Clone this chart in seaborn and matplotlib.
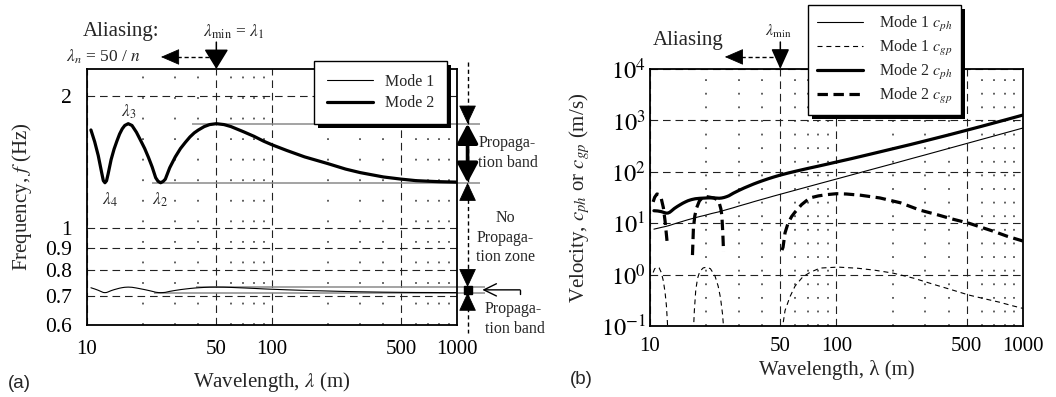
import numpy as np
import pandas as pd
import matplotlib
matplotlib.use("Agg")
import matplotlib.pyplot as plt
import seaborn as sns
from matplotlib.lines import Line2D
from matplotlib.patches import Rectangle
from matplotlib.transforms import IdentityTransform
from matplotlib.ticker import NullLocator, NullFormatter

# ---------------------------------------------------------------- data
wavelength = [10.5, 11, 11.5, 12, 12.25, 12.5, 12.75, 13, 13.5, 14, 14.5, 15, 15.5, 16,
              16.7, 17.5, 18.5, 19.5, 20.5, 21.5, 22.5, 23.5, 24.2, 25, 25.8, 26.5, 28,
              30, 32, 34, 36, 38, 40, 43, 46, 50, 55, 60, 70, 80, 90, 100, 120, 150, 200,
              250, 300, 400, 500, 600, 700, 800, 1000]

freq_mode1 = [0.7295, 0.7249, 0.7199, 0.7142, 0.7116, 0.711, 0.7116, 0.7137, 0.7185,
              0.7222, 0.7251, 0.7279, 0.7299, 0.7313, 0.732, 0.7313, 0.7285, 0.7254,
              0.7224, 0.7192, 0.716, 0.7126, 0.7115, 0.711, 0.7114, 0.7121, 0.7158,
              0.7194, 0.7224, 0.7247, 0.7267, 0.7283, 0.7295, 0.7308, 0.7317, 0.732,
              0.7317, 0.7308, 0.7288, 0.727, 0.7251, 0.7238, 0.7217, 0.7194, 0.7171,
              0.7153, 0.7142, 0.7128, 0.7121, 0.7116, 0.7115, 0.7113, 0.7112]

freq_mode2 = [1.67, 1.57, 1.46, 1.335, 1.28, 1.266, 1.279, 1.325, 1.43, 1.51, 1.575,
              1.635, 1.68, 1.71, 1.726, 1.71, 1.65, 1.58, 1.515, 1.445, 1.375, 1.30,
              1.276, 1.266, 1.275, 1.29, 1.37, 1.45, 1.515, 1.565, 1.61, 1.645, 1.67,
              1.70, 1.718, 1.726, 1.718, 1.70, 1.655, 1.615, 1.575, 1.545, 1.50, 1.45,
              1.40, 1.36, 1.335, 1.305, 1.29, 1.28, 1.276, 1.273, 1.27]

cph_mode1 = [7.66, 7.97, 8.28, 8.57, 8.72, 8.89, 9.07, 9.28, 9.70, 10.1, 10.5, 10.9,
             11.3, 11.7, 12.2, 12.8, 13.5, 14.1, 14.8, 15.5, 16.1, 16.7, 17.2, 17.8,
             18.4, 18.9, 20.0, 21.6, 23.1, 24.6, 26.2, 27.7, 29.2, 31.4, 33.7, 36.6,
             40.2, 43.8, 51.0, 58.2, 65.3, 72.4, 86.6, 108, 143, 179, 214, 285, 356,
             427, 498, 569, 711]

cph_mode2 = [17.5, 17.3, 16.8, 16.0, 15.7, 15.8, 16.3, 17.2, 19.3, 21.1, 22.8, 24.5,
             26.0, 27.4, 28.8, 29.9, 30.5, 30.8, 31.1, 31.1, 30.9, 30.6, 30.9, 31.7,
             32.9, 34.2, 38.4, 43.5, 48.5, 53.2, 58.0, 62.5, 66.8, 73.1, 79.0, 86.3,
             94.5, 102, 116, 129, 142, 155, 180, 218, 280, 340, 401, 522, 645, 768,
             893, 1018, 1270]

# group velocities exist only on branches where they are positive (NaN = gap)
cgp_mode1_wavelength = [10.4, 10.6, 10.9, 11.2, 11.5, 11.8, 12.05, 12.25, 12.4, 12.5, np.nan,
                        17.1, 17.3, 17.6, 18.0, 18.5, 19.3, 20.2, 21.1, 22.3, 23.2, 23.9,
                        24.5, 24.9, np.nan,
                        51.3, 51.7, 53, 56.3, 60, 65.9, 72, 81.6, 102, 130, 160, 201, 260,
                        330, 420, 513, 620, 750, 870, 1000]
cgp_mode1 = [1.1, 1.3, 1.4, 1.35, 1.1, 0.75, 0.45, 0.25, 0.12, 0.06, np.nan,
             0.08, 0.2, 0.5, 0.85, 1.15, 1.35, 1.4, 1.3, 0.95, 0.6, 0.35, 0.17, 0.08, np.nan,
             0.08, 0.11, 0.2, 0.37, 0.6, 0.9, 1.1, 1.34, 1.4, 1.33, 1.22, 1.07, 0.85, 0.65,
             0.5, 0.4, 0.34, 0.29, 0.25, 0.22]

cgp_mode2_wavelength = [10.4, 10.6, 10.9, 11.2, 11.5, 11.8, 12.05, 12.25, 12.4, np.nan,
                        16.9, 17.1, 17.4, 17.8, 18.4, 19.2, 20.0, 21.0, 22.0, 22.8, 23.5,
                        24.0, 24.3, 24.6, 24.8, np.nan,
                        51.0, 51.7, 53, 55, 57.5, 60, 65, 72, 80, 89, 100, 113, 135, 171,
                        220, 280, 350, 420, 513, 600, 700, 820, 1000]
cgp_mode2 = [26, 32, 37, 36, 30, 20, 11, 6, 3.8, np.nan,
             2.4, 8, 14, 20, 27, 32, 33, 32, 31, 29, 25, 19, 14, 6, 2.8, np.nan,
             3.0, 3.4, 6.5, 10, 13.5, 16.5, 23, 31, 34, 36, 37.5, 37, 35, 31, 25, 18,
             14.5, 12, 10, 8.3, 6.9, 5.6, 4.5]

band_mode2 = [1.266, 1.726]   # propagation band edges, mode 2 (Hz)
band_mode1 = [0.711, 0.732]   # propagation band edges, mode 1 (Hz)

x_ticks = [10, 50, 100, 500, 1000]
x_tick_labels = ["10", "50", "100", "500", "1000"]
x_minor = [20, 30, 40, 60, 70, 80, 90, 200, 300, 400, 600, 700, 800, 900]
freq_ticks = [0.6, 0.7, 0.8, 0.9, 1, 2]
freq_tick_labels = ["0.6", "0.7", "0.8", "0.9", "1", "2"]
vel_ticks = [1e-1, 1e0, 1e1, 1e2, 1e3, 1e4]
vel_tick_labels = [r"$10^{-1}$", r"$10^{0}$", r"$10^{1}$", r"$10^{2}$", r"$10^{3}$", r"$10^{4}$"]

# ---------------------------------------------------------------- style
sns.set_theme(style="white")
plt.rcParams["font.family"] = ["Liberation Serif", "DejaVu Serif"]
plt.rcParams["mathtext.fontset"] = "stix"
plt.rcParams["lines.scale_dashes"] = False
plt.rcParams["axes.edgecolor"] = "black"
plt.rcParams["axes.linewidth"] = 1.2

THIN = 0.8
THICK = 2.3
THIN_DASH = (0, (3.6, 2.8))
THICK_DASH = (0, (7.5, 4.0))

fig = plt.figure(figsize=(10.56, 3.97), dpi=100)
ax_a = fig.add_axes([0.0824, 0.1814, 0.3504, 0.6448])
ax_b = fig.add_axes([0.6155, 0.1788, 0.3532, 0.6474])


def style_axes(ax, dot_gap):
    ax.set_xscale("log")
    ax.set_yscale("log")
    ax.set_xlim(10, 1000)
    ax.set_xticks(x_ticks, labels=x_tick_labels)
    ax.set_xticks(x_minor, minor=True)
    ax.xaxis.set_minor_formatter(NullFormatter())
    ax.yaxis.set_minor_locator(NullLocator())
    ax.tick_params(which="both", length=0, labelsize=15, colors="black")
    ax.set_axisbelow(True)
    ax.grid(which="major", linestyle=(0, (5.5, 3.5)), color="#222222", linewidth=0.8)
    ax.grid(which="minor", axis="x", linestyle=(0, (1.3, dot_gap)), color="#333333",
            linewidth=1.1)
    for s in ax.spines.values():
        s.set_color("black")
        s.set_linewidth(1.3)


def draw(ax, x, y, lw, ls="-"):
    sns.lineplot(x=x, y=y, ax=ax, color="black", linewidth=lw, linestyle=ls,
                 estimator=None, sort=False, legend=False)


def draw_branches(ax, xs, ys, lw, ls):
    df = pd.DataFrame({"x": xs, "y": ys})
    gap = df["x"].isna()
    branch = gap.cumsum()
    for _, part in df[~gap].groupby(branch[~gap]):
        draw(ax, part["x"].to_numpy(), part["y"].to_numpy(), lw, ls)


def head(ax, x, y, direction, coords="data", size=20, hw=0.3, hl=0.6):
    L = hl * size
    off = {"down": (0, L), "up": (0, -L), "left": (L, 0)}[direction]
    ax.annotate("", xy=(x, y), xycoords=coords, xytext=off, textcoords="offset points",
                arrowprops=dict(arrowstyle=f"-|>,head_length={hl},head_width={hw}",
                                mutation_scale=size, color="black", lw=0.6,
                                shrinkA=0, shrinkB=0),
                annotation_clip=False)


def aliasing_marks(ax, label, label_x, label_y, tip_x, base_x, min_label, min_x, fs_min, hw):
    top = ("data", "axes fraction")
    ax.annotate("", xy=(50, 1.0), xycoords=top, xytext=(50, 1.105), textcoords=top,
                arrowprops=dict(arrowstyle=f"-|>,head_length=0.62,head_width={hw}",
                                mutation_scale=20, color="black", lw=1.1,
                                shrinkA=0, shrinkB=0),
                annotation_clip=False)
    ax.plot([50, base_x], [1.047, 1.047], transform=ax.get_xaxis_transform(),
            color="black", lw=1.0, linestyle=(0, (3, 2)), clip_on=False)
    ax.annotate("", xy=(tip_x, 1.047), xycoords=top, xytext=(base_x, 1.047), textcoords=top,
                arrowprops=dict(arrowstyle="-|>,head_length=0.6,head_width=0.26",
                                mutation_scale=20, color="black", lw=0.6,
                                shrinkA=0, shrinkB=0),
                annotation_clip=False)
    ax.annotate(label, xy=(label_x, label_y), xycoords=top, ha="left", va="baseline",
                fontsize=15)
    ax.annotate(min_label, xy=(min_x, 1.145), xycoords=top, ha="center", va="center",
                fontsize=fs_min)


def add_shadow(ax, leg, dx=4, dy=4):
    fig.canvas.draw()
    bb = leg.get_window_extent()
    rect = Rectangle((bb.x0 + dx, bb.y0 - dy), bb.width, bb.height,
                     transform=IdentityTransform(), facecolor="black", edgecolor="none",
                     zorder=leg.get_zorder() - 0.1, clip_on=False)
    ax.add_artist(rect)


# ---------------------------------------------------------------- (a) frequency
style_axes(ax_a, 13.5)
ax_a.set_ylim(0.6, 2.3)
ax_a.set_yticks(freq_ticks, labels=freq_tick_labels)
ax_a.yaxis.set_minor_locator(NullLocator())
ax_a.tick_params(axis="x", pad=11)
ax_a.tick_params(axis="y", pad=11, labelsize=15.5)

X_END = 1330
ax_a.hlines([band_mode2[1]], 37, X_END, color="#8a8a8a", lw=1.1, clip_on=False, zorder=1.5)
ax_a.hlines([band_mode2[0]], 22.4, X_END, color="#8a8a8a", lw=1.1, clip_on=False, zorder=1.5)
ax_a.hlines([band_mode1[1]], 38.8, 1416, color="#8a8a8a", lw=1.1, clip_on=False, zorder=1.5)
ax_a.hlines([band_mode1[0]], 23, 1416, color="#8a8a8a", lw=1.1, clip_on=False, zorder=1.5)

draw(ax_a, wavelength, freq_mode1, THIN)
draw(ax_a, wavelength, freq_mode2, THICK)

ax_a.text(16.7, 1.84, r"$\lambda_3$", ha="center", va="center", fontsize=12.5)
ax_a.text(13.3, 1.16, r"$\lambda_4$", ha="center", va="center", fontsize=12.5)
ax_a.text(24.8, 1.16, r"$\lambda_2$", ha="center", va="center", fontsize=12.5)

ax_a.set_xlabel(r"Wavelength, $\lambda$ (m)", fontsize=15, labelpad=8)
ax_a.set_ylabel(r"Frequency, $f$ (Hz)", fontsize=15, labelpad=8)

aliasing_marks(ax_a, "Aliasing:", 9.5, 1.13, 25.1, 30.7,
               r"$\lambda_{\min}$ = $\lambda_1$", 62, 12.5, 0.38)
ax_a.annotate(r"$\lambda_n$ = 50 / $n$", xy=(12.3, 1.047), xycoords=("data", "axes fraction"),
              ha="center", va="center", fontsize=12.5)

# propagation bands on the right
X0 = 1140
ax_a.plot([X0, X0], [2.38, 0.576], color="black", lw=1.0, linestyle=(0, (3, 2.2)),
          clip_on=False, zorder=3)
head(ax_a, X0, band_mode2[1], "down", hw=0.28)
ax_a.annotate("", xy=(X0, band_mode2[0]), xytext=(X0, band_mode2[1]),
              arrowprops=dict(arrowstyle="<|-|>,head_length=0.6,head_width=0.32",
                              mutation_scale=20, color="black", lw=2.6,
                              shrinkA=0, shrinkB=0),
              annotation_clip=False, zorder=4)
head(ax_a, X0, band_mode2[0], "up", hw=0.28)
head(ax_a, X0, band_mode1[1], "down", hw=0.28)
head(ax_a, X0, band_mode1[0], "up", hw=0.28)
ax_a.plot([X0], [0.7215], marker="s", ms=6, color="black", clip_on=False, zorder=5)

ax_a.text(1300, 1.482, "Propaga-\ntion band", ha="left", va="center", fontsize=11.5,
          linespacing=1.3)
ax_a.text(1817, 0.948, "No\nPropaga-\ntion zone", ha="center", va="center", fontsize=11.5,
          linespacing=1.3)
ax_a.text(1416, 0.62, "Propaga-\ntion band", ha="left", va="center", fontsize=11.5,
          linespacing=1.3)
ax_a.annotate("", xy=(1370, 0.7215), xytext=(2190, 0.7215),
              arrowprops=dict(arrowstyle="->,head_length=0.45,head_width=0.22",
                              mutation_scale=20, color="black", lw=1.0,
                              shrinkA=0, shrinkB=0),
              annotation_clip=False)
ax_a.plot([2190, 2190], [0.7215, 0.705], color="black", lw=1.0, clip_on=False)

leg_a = ax_a.legend(
    handles=[Line2D([], [], color="black", lw=THIN), Line2D([], [], color="black", lw=THICK)],
    labels=["Mode 1", "Mode 2"], loc="upper left", bbox_to_anchor=(0.614, 1.031),
    borderaxespad=0, frameon=True, fancybox=False, framealpha=1, edgecolor="black",
    fontsize=11.5, handlelength=2.9, handletextpad=0.75, labelspacing=0.35, borderpad=0.8)
leg_a.get_frame().set_linewidth(1.0)
leg_a.set_zorder(6)

# ---------------------------------------------------------------- (b) velocity
style_axes(ax_b, 8.5)
ax_b.set_ylim(1e-1, 1e4)
ax_b.set_yticks(vel_ticks, labels=vel_tick_labels)
ax_b.yaxis.set_minor_locator(NullLocator())
ax_b.tick_params(axis="x", pad=8)
ax_b.tick_params(axis="y", pad=3, labelsize=17.5)

draw(ax_b, wavelength, cph_mode1, THIN)
draw(ax_b, wavelength, cph_mode2, THICK)
draw_branches(ax_b, cgp_mode1_wavelength, cgp_mode1, THIN, THIN_DASH)
draw_branches(ax_b, cgp_mode2_wavelength, cgp_mode2, THICK, THICK_DASH)

ax_b.set_xlabel("Wavelength, λ (m)", fontsize=15, labelpad=3)
ax_b.set_ylabel(r"Velocity, $c_{ph}$ or $c_{gp}$ (m/s)", fontsize=15, labelpad=6)

aliasing_marks(ax_b, "Aliasing", 10.4, 1.095, 25.2, 30.4, r"$\lambda_{\min}$", 49, 11.5, 0.28)

leg_b = ax_b.legend(
    handles=[Line2D([], [], color="black", lw=THIN),
             Line2D([], [], color="black", lw=THIN, linestyle=THIN_DASH),
             Line2D([], [], color="black", lw=THICK),
             Line2D([], [], color="black", lw=THICK, linestyle=THICK_DASH)],
    labels=[r"Mode 1 $c_{ph}$", r"Mode 1 $c_{gp}$", r"Mode 2 $c_{ph}$", r"Mode 2 $c_{gp}$"],
    loc="upper left", bbox_to_anchor=(0.4236, 1.249), borderaxespad=0, frameon=True,
    fancybox=False, framealpha=1, edgecolor="black", fontsize=11.5, handlelength=2.9,
    handletextpad=1.0, labelspacing=0.25, borderpad=0.55)
leg_b.get_frame().set_linewidth(1.0)
leg_b.set_zorder(6)

fig.text(8 / 1056, 1 - 383 / 397, "(a)", family="Liberation Sans", fontsize=13.5,
         ha="left", va="center")
fig.text(570 / 1056, 1 - 380 / 397, "(b)", family="Liberation Sans", fontsize=13.5,
         ha="left", va="center")

add_shadow(ax_a, leg_a)
add_shadow(ax_b, leg_b)

fig.savefig("out.png", dpi=100)
